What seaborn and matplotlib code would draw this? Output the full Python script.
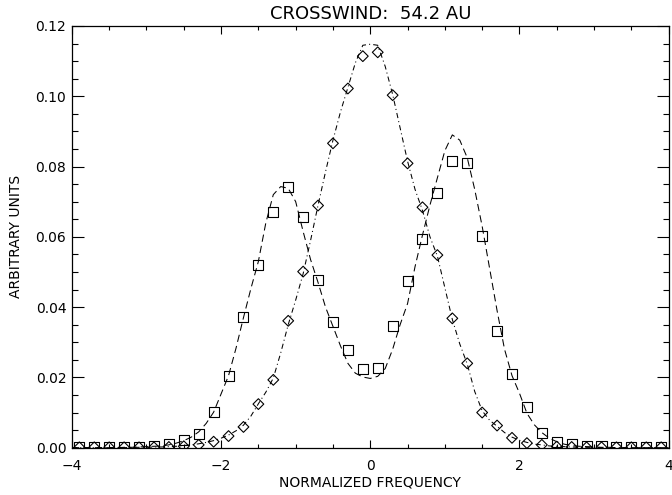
import matplotlib
matplotlib.use("Agg")
import matplotlib.pyplot as plt
import numpy as np
import pandas as pd
import seaborn as sns
from matplotlib.ticker import MultipleLocator, FormatStrFormatter

# ---- data ----
point_freq = [-3.9, -3.7, -3.5, -3.3, -3.1, -2.9, -2.7, -2.5, -2.3, -2.1,
              -1.9, -1.7, -1.5, -1.3, -1.1, -0.9, -0.7, -0.5, -0.3, -0.1,
              0.1, 0.3, 0.5, 0.7, 0.9, 1.1, 1.3, 1.5, 1.7, 1.9,
              2.1, 2.3, 2.5, 2.7, 2.9, 3.1, 3.3, 3.5, 3.7, 3.9]

square_values = [0.0003, 0.0003, 0.0003, 0.0003, 0.0003, 0.0004, 0.0010, 0.0022, 0.0038, 0.0102,
                 0.0205, 0.0373, 0.0520, 0.0670, 0.0743, 0.0655, 0.0476, 0.0358, 0.0278, 0.0223,
                 0.0226, 0.0346, 0.0475, 0.0595, 0.0726, 0.0817, 0.0811, 0.0602, 0.0333, 0.0210,
                 0.0115, 0.0041, 0.0016, 0.0010, 0.0005, 0.0004, 0.0003, 0.0003, 0.0003, 0.0003]

diamond_values = [0.0001, 0.0001, 0.0001, 0.0001, 0.0001, 0.0001, 0.0002, 0.0004, 0.0008, 0.0017,
                  0.0033, 0.0059, 0.0124, 0.0193, 0.0361, 0.0501, 0.0689, 0.0866, 0.1022, 0.1114,
                  0.1125, 0.1003, 0.0809, 0.0684, 0.0548, 0.0368, 0.0240, 0.0100, 0.0063, 0.0028,
                  0.0013, 0.0008, 0.0003, 0.0002, 0.0001, 0.0001, 0.0001, 0.0001, 0.0001, 0.0001]

curve_freq = [-4.0, -3.9, -3.8, -3.7, -3.6, -3.5, -3.4, -3.3, -3.2, -3.1,
              -3.0, -2.9, -2.8, -2.7, -2.6, -2.5, -2.4, -2.3, -2.2, -2.1,
              -2.0, -1.9, -1.8, -1.7, -1.6, -1.5, -1.4, -1.3, -1.2, -1.1,
              -1.0, -0.9, -0.8, -0.7, -0.6, -0.5, -0.4, -0.3, -0.2, -0.1,
              0.0, 0.1, 0.2, 0.3, 0.4, 0.5, 0.6, 0.7, 0.8, 0.9,
              1.0, 1.1, 1.2, 1.3, 1.4, 1.5, 1.6, 1.7, 1.8, 1.9,
              2.0, 2.1, 2.2, 2.3, 2.4, 2.5, 2.6, 2.7, 2.8, 2.9,
              3.0, 3.1, 3.2, 3.3, 3.4, 3.5, 3.6, 3.7, 3.8, 3.9, 4.0]

dashed_curve = [0.0, 0.0, 0.0, 0.0, 0.0, 0.0, 0.0, 0.0001, 0.0001, 0.0002,
                0.0003, 0.0004, 0.0005, 0.0008, 0.0013, 0.0020, 0.0030, 0.0045, 0.0069, 0.0101,
                0.0153, 0.0205, 0.0283, 0.0370, 0.0453, 0.0530, 0.0640, 0.0720, 0.0743, 0.0738,
                0.0700, 0.0615, 0.0535, 0.0470, 0.0400, 0.0345, 0.0290, 0.0240, 0.0212, 0.0201,
                0.0197, 0.0203, 0.0225, 0.0280, 0.0350, 0.0410, 0.0515, 0.0605, 0.0690, 0.0768,
                0.0845, 0.0890, 0.0875, 0.0825, 0.0735, 0.0630, 0.0510, 0.0390, 0.0280, 0.0205,
                0.0155, 0.0098, 0.0065, 0.0043, 0.0027, 0.0017, 0.0010, 0.0006, 0.0004, 0.0003,
                0.0002, 0.0001, 0.0001, 0.0, 0.0, 0.0, 0.0, 0.0, 0.0, 0.0, 0.0]

dashdot_curve = [0.0, 0.0, 0.0, 0.0, 0.0, 0.0, 0.0, 0.0, 0.0001, 0.0001,
                 0.0001, 0.0002, 0.0002, 0.0003, 0.0004, 0.0006, 0.0008, 0.0011, 0.0015, 0.0020,
                 0.0027, 0.0036, 0.0048, 0.0064, 0.0090, 0.0125, 0.0158, 0.0198, 0.0270, 0.0350,
                 0.0420, 0.0495, 0.0590, 0.0690, 0.0785, 0.0875, 0.0955, 0.1025, 0.1095, 0.1145,
                 0.1148, 0.1145, 0.1085, 0.1005, 0.0910, 0.0815, 0.0735, 0.0675, 0.0600, 0.0545,
                 0.0455, 0.0365, 0.0295, 0.0238, 0.0160, 0.0105, 0.0078, 0.0061, 0.0043, 0.0030,
                 0.0021, 0.0015, 0.0010, 0.0008, 0.0005, 0.0004, 0.0003, 0.0002, 0.0001, 0.0001,
                 0.0001, 0.0, 0.0, 0.0, 0.0, 0.0, 0.0, 0.0, 0.0, 0.0, 0.0]

title_text = "CROSSWIND:  54.2 AU"
x_label = "NORMALIZED FREQUENCY"
y_label = "ARBITRARY UNITS"

# ---- plotting ----
sns.set_style("ticks", {"axes.edgecolor": "black", "text.color": "black",
                        "xtick.color": "black", "ytick.color": "black",
                        "axes.labelcolor": "black"})
plt.rcParams["font.family"] = ["DejaVu Sans"]

fig = plt.figure(figsize=(6.72, 4.95), dpi=100)
ax = fig.add_axes([0.107, 0.0956, 0.888, 0.852])

sns.lineplot(x=curve_freq, y=dashed_curve, ax=ax, color="black", linewidth=0.75,
             linestyle=(0, (7, 4)), sort=False, estimator=None)
sns.lineplot(x=curve_freq, y=dashdot_curve, ax=ax, color="black", linewidth=0.75,
             linestyle=(0, (5, 3, 1, 3)), sort=False, estimator=None)

sns.scatterplot(x=point_freq, y=square_values, ax=ax, marker="s", s=52,
                facecolors="none", edgecolor="black", linewidth=0.8, zorder=3)
sns.scatterplot(x=point_freq, y=diamond_values, ax=ax, marker="D", s=30,
                facecolors="none", edgecolor="black", linewidth=0.8, zorder=3)

ax.set_xlim(-4, 4)
ax.set_ylim(0, 0.12)
ax.xaxis.set_major_locator(MultipleLocator(2))
ax.xaxis.set_minor_locator(MultipleLocator(0.5))
ax.yaxis.set_major_locator(MultipleLocator(0.02))
ax.yaxis.set_minor_locator(MultipleLocator(0.005))
ax.yaxis.set_major_formatter(FormatStrFormatter("%.2f"))

for s in ax.spines.values():
    s.set_visible(True)
    s.set_linewidth(0.9)
    s.set_color("black")

ax.tick_params(which="both", direction="in", top=True, right=True, width=0.8,
               labelsize=10)
ax.tick_params(axis="x", which="major", length=6, pad=8)
ax.tick_params(axis="x", which="minor", length=3)
ax.tick_params(axis="y", which="major", length=8.6, pad=4)
ax.tick_params(axis="y", which="minor", length=4.3)

ax.set_xlabel(x_label, fontsize=10, labelpad=2)
ax.set_ylabel(y_label, fontsize=10, labelpad=9)
ax.set_title(title_text, fontsize=13, pad=5)

fig.savefig("out.png", dpi=100)
